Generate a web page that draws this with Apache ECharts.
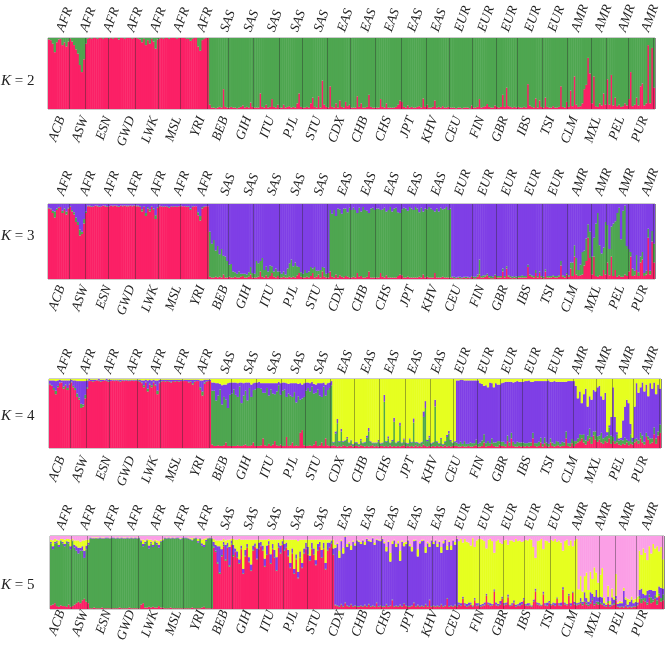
<!DOCTYPE html>
<html>
<head>
<meta charset="utf-8">
<title>ADMIXTURE K = 2 to 5</title>
<script src="https://cdn.jsdelivr.net/npm/echarts@6/dist/echarts.min.js"></script>
<style>
  html, body { margin: 0; padding: 0; background: #fff; }
  #chart { width: 667px; height: 645px; filter: blur(0.4px); }
</style>
</head>
<body>
<div id="chart"></div>
<script>
const popLabels = ['ACB','ASW','ESN','GWD','LWK','MSL','YRI','BEB','GIH','ITU','PJL','STU','CDX','CHB','CHS','JPT','KHV','CEU','FIN','GBR','IBS','TSI','CLM','MXL','PEL','PUR'];
const superLabels = ['AFR','AFR','AFR','AFR','AFR','AFR','AFR','SAS','SAS','SAS','SAS','SAS','EAS','EAS','EAS','EAS','EAS','EUR','EUR','EUR','EUR','EUR','AMR','AMR','AMR','AMR'];
// columns drawn for each population (about one per 8 individuals)
const popColumns = [12,8,12,14,12,11,14,11,13,13,12,13,12,13,13,13,12,12,12,11,13,13,12,8,11,13];

// ancestry shares in percent, one row per population, bottom colour first.
// the top colour of each panel is what is left of 100
const k2Red = [
  [98,97,92,80,94,98,99,90,94,88,95,99],[95,90,84,78,62,52,70,92],[99,100,99,100,100,99,100,100,99,100,100,99],[100,99,100,100,98,100,100,99,100,100,100,99,100,100],[99,98,94,99,90,97,92,99,95,85,98,99],[100,99,100,100,99,100,100,100,99,100,100],[100,100,99,99,96,99,100,100,88,82,97,99,100,100],
  [6,2,2,1,2,3,2,28,3,2,2],[3,2,2,1,2,3,5,2,3,2,9,3,2],[2,2,22,3,2,6,2,3,14,3,2,6,2],[2,6,2,3,4,2,3,2,8,22,3,2],[2,3,2,8,16,3,2,18,2,40,6,3,2],
  [32,3,2,8,2,12,3,2,10,4,6,2],[2,2,18,3,8,2,2,3,20,3,2,2,2],[2,14,3,2,8,2,2,2,2,3,6,12,10],[3,2,5,2,3,2,2,3,4,2,15,3,6],[2,2,3,12,2,3,2,4,2,2,3,2],
  [2,2,1,2,2,1,2,2,2,1,5,2],[2,3,14,2,3,4,7,3,2,2,5,3],[2,3,20,3,30,4,3,2,3,2,3],[2,2,3,2,35,5,3,2,15,2,12,3,2],[16,3,2,2,4,2,2,3,32,3,2,10,3],
  [26,4,46,6,3,4,8,28,34,72,50,8],[46,4,3,8,5,22,6,42],[6,48,5,16,4,6,3,4,8,5,14],[52,4,6,16,5,32,36,5,8,90,8,86,30]
];

const k3Red = [
  [94,93,88,82,92,95,96,88,92,86,94,96],[90,86,76,72,58,60,74,88],[97,97,96,97,98,97,96,97,98,97,96,97],[98,97,98,97,96,98,97,98,97,97,98,97,98,97],[97,96,90,96,84,94,90,96,92,80,95,97],[97,96,97,96,95,97,96,97,96,97,97],[97,97,96,96,92,96,97,97,85,78,94,96,97,97],
  [3,2,2,3,2,3,2,6,2,2,3],[2,2,3,2,2,3,4,2,2,3,6,2,2],[2,3,10,3,2,5,2,4,8,3,2,4,2],[2,3,2,2,3,2,3,2,5,8,3,2],[2,3,2,4,8,2,3,6,2,10,3,2,2],
  [10,3,2,6,2,5,3,2,4,3,2,2],[3,2,8,3,4,2,2,3,10,2,2,2,2],[2,8,3,2,5,2,2,2,2,2,4,6,5],[2,2,3,2,2,2,2,2,3,2,6,2,3],[2,2,2,8,2,2,2,3,2,2,2,2],
  [2,1,1,2,1,1,2,1,2,1,3,1],[1,3,6,2,2,3,5,2,1,1,4,2],[2,2,10,2,14,3,2,1,2,1,2],[2,2,2,2,16,4,3,2,8,2,8,2,1],[10,2,2,2,3,2,2,3,18,3,2,6,3],
  [14,4,30,6,4,5,6,18,24,55,28,6],[30,4,3,5,4,12,6,22],[5,30,4,12,3,5,3,3,6,4,10],[30,4,5,12,4,22,26,4,6,55,6,50,22]
];
const k3Green = [
  [1,1,3,8,2,1,0,3,2,4,1,1],[2,3,6,4,8,3,6,2],[1,1,1,0,0,1,1,0,0,1,1,0],[0,1,0,1,1,0,1,0,1,1,0,1,0,1],[1,1,3,1,4,2,3,1,2,5,1,1],[0,1,0,1,1,0,1,0,1,0,1],[0,0,1,1,2,1,0,0,4,6,2,1,0,0],
  [60,45,50,35,42,30,38,25,28,22,16],[18,8,6,5,8,4,3,5,4,6,10,6,5],[22,18,14,25,10,12,8,14,9,7,12,6,8],[5,7,4,12,18,24,14,20,12,8,6,5],[10,5,8,12,6,14,8,5,10,6,12,5,6],
  [82,84,90,78,92,88,84,92,90,86,93,90],[92,90,80,92,86,94,90,88,78,92,93,90,92],[92,84,90,93,85,90,94,88,92,93,85,82,88],[93,92,88,94,92,90,94,92,86,93,84,92,90],[94,92,90,82,92,88,93,90,92,94,90,92],
  [1,2,1,1,2,1,1,2,1,1,1,2],[2,3,20,2,3,2,2,2,3,2,2,2],[2,2,4,2,3,2,2,2,2,2,2],[2,3,2,2,3,2,2,2,4,2,2,2,2],[3,2,2,2,2,2,2,2,6,2,2,2,2],
  [8,18,15,22,8,14,30,20,30,18,35,24],[25,70,85,40,30,30,70,50],[35,40,70,65,85,90,50,88,92,40,30],[6,10,6,20,5,8,10,4,5,12,5,14,25]
];

const k4Red = [
  [92,90,84,78,88,94,95,86,90,84,92,95],[88,84,74,70,58,60,72,86],[97,97,96,97,98,97,96,97,98,97,96,97],[98,97,98,97,96,98,97,98,97,97,98,97,98,97],[96,94,88,95,82,92,88,95,90,78,94,96],[97,96,97,96,95,97,96,97,96,97,97],[97,97,95,96,92,96,97,97,84,76,93,96,97,97],
  [5,3,3,4,3,3,4,8,3,3,3],[3,3,4,3,3,4,5,3,3,4,8,3,3],[3,4,14,4,3,6,3,5,10,4,3,5,3],[3,16,3,4,8,3,4,3,22,26,4,3],[3,4,3,5,10,3,4,8,3,14,4,3,3],
  [4,3,2,3,2,4,3,2,3,4,2,3],[3,2,4,3,2,3,2,3,4,2,3,2,3],[3,2,3,2,4,2,3,2,3,2,3,4,2],[3,2,3,2,4,2,3,2,5,3,2,3,2],[3,2,3,2,3,2,4,2,3,2,3,3],
  [3,2,2,3,2,2,3,2,2,3,4,2],[2,3,8,2,3,3,6,3,2,2,5,3],[3,2,10,3,14,3,2,2,3,2,3],[2,3,2,3,14,3,2,3,8,2,7,3,2],[8,3,2,3,4,2,3,3,14,3,2,7,3],
  [6,8,10,14,8,5,10,14,6,18,12,9],[12,8,6,10,8,14,6,10],[6,8,5,4,6,5,8,4,6,5,8],[10,6,14,8,5,16,12,6,8,20,6,18,22]
];
const k4Green = [
  [1,1,3,5,2,1,0,3,2,3,1,1],[2,3,5,3,6,3,5,2],[1,0,1,0,0,1,1,0,0,1,1,0],[0,1,0,1,1,0,1,0,1,1,0,1,0,1],[1,1,3,1,4,2,3,1,2,5,1,1],[0,1,0,1,1,0,1,0,1,0,1],[0,0,1,1,2,1,0,0,4,6,2,1,0,0],
  [78,80,66,72,82,60,70,62,55,74,76],[82,74,70,86,62,72,78,66,84,70,76,82,84],[84,82,66,76,84,70,82,74,68,78,88,72,80],[82,58,76,72,66,78,62,72,48,46,70,80],[84,78,86,74,70,82,72,66,86,62,80,84,88],
  [4,18,34,6,22,5,8,12,4,7,3,5],[5,3,7,4,6,12,22,6,3,5,4,8,3],[4,65,6,12,3,8,35,5,6,30,4,8,5],[3,10,5,35,4,6,3,6,40,55,8,12,4],[5,58,6,4,10,3,5,14,18,8,4,6],
  [5,4,7,3,8,4,3,6,5,4,8,4],[6,8,12,5,7,4,8,5,6,8,5,6],[6,4,8,5,8,6,4,7,5,6,5],[5,4,6,5,8,4,5,6,7,4,8,5,4],[6,5,4,7,5,4,6,5,10,4,5,6,7],
  [4,6,10,5,12,6,8,14,10,6,12,8],[6,14,8,6,10,16,12,6],[4,12,6,8,5,10,4,6,14,4,5],[4,5,8,10,4,6,5,8,6,10,8,6,12]
];
const k4Purple = [
  [5,7,11,14,8,4,3,9,6,11,5,3],[8,11,18,24,33,34,20,10],[2,2,2,2,1,2,2,2,1,2,2,2],[1,1,1,1,2,1,1,1,1,1,1,1,1,1],[2,3,7,3,12,5,7,3,6,15,4,2],[2,2,2,2,3,2,2,2,2,2,1],[2,2,3,2,5,2,2,2,10,16,4,2,2,2],
  [12,12,25,18,8,28,18,22,36,18,16],[10,18,20,6,30,18,12,26,8,18,10,10,8],[9,8,14,14,7,18,9,15,16,12,5,17,12],[10,20,14,18,20,13,28,18,24,20,20,12],[8,12,7,14,12,9,18,20,6,16,10,8,6],
  [1,3,6,1,4,1,1,2,1,1,1,1],[1,1,2,1,1,3,5,1,1,1,1,2,1],[1,10,1,3,1,2,6,1,1,5,1,2,1],[1,2,1,6,1,1,1,1,8,10,2,3,1],[1,10,1,1,2,1,1,3,4,2,1,1],
  [90,92,90,93,88,92,92,90,91,91,86,92],[86,82,70,84,78,88,80,80,86,82,82,85],[86,90,78,88,74,86,90,88,88,88,88],[90,90,90,88,74,90,90,88,82,91,82,89,92],[82,88,91,86,87,90,87,88,72,90,90,84,87],
  [80,58,62,46,58,75,42,47,54,60,58,71],[72,53,56,64,5,3,27,72],[35,3,3,3,29,45,58,55,15,6,47],[80,69,66,77,73,70,58,80,72,65,64,68,52]
];

const k5Red = [
  [5,6,8,4,3,5,4,4,3,6,3,4],[6,8,10,8,12,14,10,8],[1,1,2,1,1,1,2,1,1,1,1,1],[1,1,1,2,1,1,1,1,2,1,1,1,1,1],[6,8,2,2,3,2,3,2,2,4,2,2],[1,1,1,2,1,1,1,1,1,1,1],[1,1,1,2,1,1,1,1,2,3,1,1,1,1],
  [84,78,62,48,72,86,66,84,58,88,72],[78,70,62,82,48,72,84,64,52,80,85,68,82],[86,80,58,74,88,62,82,70,52,84,76,88,80],[84,72,56,76,48,68,42,70,56,76,82,74],[66,82,74,60,80,85,70,82,54,80,84,89,74],
  [5,4,3,6,3,8,4,3,6,3,4,3],[3,4,3,5,3,6,3,4,3,8,3,4,3],[3,6,3,4,12,3,4,3,5,3,7,4,3],[3,4,8,3,5,3,4,3,6,3,12,3,4],[3,4,3,6,3,4,14,3,4,3,5,3],
  [6,4,14,5,3,4,6,3,12,4,5,3],[4,5,18,6,4,5,24,5,4,6,14,5],[6,16,4,5,8,3,5,4,6,12,5],[4,5,3,10,24,6,5,4,20,5,4,8,5],[6,4,14,5,4,26,6,5,18,4,22,6,5],
  [6,8,5,10,6,4,7,12,5,8,6,7],[6,4,3,8,3,5,6,12],[3,2,3,2,4,2,3,2,3,3,5],[14,8,12,10,6,16,8,10,14,6,18,10,12]
];
const k5Green = [
  [85,76,82,87,82,88,86,82,89,84,79,89],[78,72,66,72,68,56,72,80],[96,95,94,96,95,96,94,95,96,96,95,96],[96,95,96,94,96,95,95,96,94,96,95,96,95,96],[86,78,88,92,80,88,82,90,86,80,90,92],[96,95,96,94,96,95,96,96,94,96,96],[96,95,94,92,95,96,90,95,85,82,92,95,96,95],
  [2,2,2,2,2,2,2,2,2,2,2],[1,1,1,1,1,1,1,1,1,1,1,1,1],[1,1,1,1,1,1,1,1,1,1,1,1,1],[1,1,1,1,1,1,1,1,1,1,1,1],[1,1,1,1,1,1,1,1,1,1,1,1,1],
  [1,1,1,1,1,1,1,1,1,1,1,1],[1,1,1,1,1,1,1,1,1,1,1,1,1],[1,1,1,1,1,1,1,1,1,1,1,1,1],[1,1,1,1,1,1,1,1,1,1,1,1,1],[1,1,1,1,1,1,1,1,1,1,1,1],
  [1,1,1,1,1,1,1,1,1,1,1,1],[1,1,1,1,1,1,1,1,1,1,1,1],[1,1,1,1,1,1,1,1,1,1,1],[1,1,1,1,1,1,1,1,1,1,1,1,1],[1,1,1,1,1,1,1,1,1,1,1,1,1],
  [1,2,2,1,3,2,2,3,2,2,4,2],[2,1,1,3,1,1,2,2],[1,1,1,1,1,1,1,1,1,1,1],[4,6,3,5,3,4,8,3,5,6,3,5,8]
];
const k5Purple = [
  [2,4,2,2,3,1,2,3,1,2,4,1],[4,6,8,4,6,10,5,3],[1,1,1,0,1,1,1,1,1,1,1,1],[1,1,1,1,1,1,1,1,1,1,1,1,1,1],[2,3,2,1,4,2,3,1,3,4,1,1],[1,1,1,1,1,1,1,1,1,1,1],[1,1,1,1,1,1,2,1,3,3,2,1,1,1],
  [6,8,22,36,8,4,20,5,25,4,14],[4,8,5,4,6,8,4,6,8,6,4,14,8],[5,6,10,12,4,12,6,10,18,6,10,4,8],[6,8,6,6,6,6,8,8,6,6,8,10],[6,8,8,6,8,6,10,8,8,10,6,4,8],
  [78,84,66,86,72,90,80,86,74,88,82,90],[88,84,90,82,92,86,88,92,84,86,90,88,92],[86,72,88,60,76,90,80,86,60,88,78,84,90],[82,74,84,90,66,86,88,90,70,86,72,90,84],[90,80,88,70,86,90,66,88,76,90,82,92],
  [2,3,2,2,3,4,2,1,2,3,2,2],[2,3,2,2,3,1,2,3,2,4,2,2],[2,3,1,2,3,2,1,4,3,2,1],[3,2,1,2,3,2,2,1,3,2,4,2,1],[2,3,1,2,4,3,2,1,2,3,1,3,2],
  [2,5,3,12,6,4,14,6,10,16,6,8],[8,3,2,6,2,10,5,4],[3,5,4,22,8,3,6,10,4,6,3],[8,14,6,4,16,6,10,12,6,4,10,14,8]
];
const k5Yellow = [
  [3,8,4,2,6,2,4,6,3,4,9,2],[6,8,10,8,8,14,8,4],[0,1,1,1,1,0,1,1,0,0,1,0],[0,1,0,1,0,1,1,0,1,0,1,0,1,0],[1,6,2,1,8,3,5,2,3,5,2,1],[0,1,0,1,0,1,0,0,1,0,0],[0,1,1,2,1,0,3,1,5,8,2,1,0,1],
  [4,6,8,8,12,4,6,4,10,2,8],[12,16,28,8,40,14,6,24,34,8,5,12,4],[3,8,26,8,3,20,6,14,24,4,8,3,6],[4,14,32,12,40,20,42,16,32,12,4,10],[22,4,12,28,6,3,14,4,32,4,4,1,12],
  [4,2,10,2,8,1,4,2,6,2,3,1],[2,3,1,4,1,2,2,1,3,1,1,2,1],[2,6,2,12,4,1,4,3,14,2,5,3,1],[3,6,2,1,10,2,2,1,8,2,5,1,3],[1,4,2,8,3,1,6,2,6,1,4,1],
  [84,88,74,88,85,82,78,92,70,86,88,90],[88,84,62,86,88,86,50,84,88,80,72,86],[86,68,88,86,80,90,86,85,82,78,88],[86,88,90,72,42,84,86,90,58,86,84,80,88],[84,88,76,86,82,50,84,88,66,86,62,84,88],
  [18,30,14,22,35,16,28,20,40,24,20,30],[40,8,3,15,5,12,4,30],[2,3,2,4,3,8,3,4,5,4,8],[54,46,62,58,42,60,50,64,58,70,48,56,40]
];

const red = '#fb2066', green = '#4ea650', purple = '#7f3fe6', yellow = '#e6ff20', pink = '#fb9fe6';

const panels = [
  { k: 2, left: 48, right: 655, top: 38, bottom: 109, labelY: 74, topGap: 10, bottomGap: 8, parts: [[k2Red, red]], rest: green },
  { k: 3, left: 48, right: 655, top: 204, bottom: 279, labelY: 229, topGap: 9, bottomGap: 7, parts: [[k3Red, red], [k3Green, green]], rest: purple },
  { k: 4, left: 49, right: 661, top: 379, bottom: 448, labelY: 409, topGap: 6, bottomGap: 9, parts: [[k4Red, red], [k4Green, green], [k4Purple, purple]], rest: yellow },
  { k: 5, left: 50, right: 664, top: 536, bottom: 609, labelY: 578, topGap: 7, bottomGap: 3, parts: [[k5Red, red], [k5Green, green], [k5Purple, purple], [k5Yellow, yellow]], rest: pink }
];

// column index that ends each population, used for the thin dark dividers
const popEnds = new Set();
let running = 0;
popColumns.forEach(n => { running += n; popEnds.add(running - 1); });
const columnNames = Array.from({ length: running }, (_, i) => i);

// rows are read by eye, so hold each one to its population's column count
const flatten = rows => rows.flatMap((row, i) =>
  Array.from({ length: popColumns[i] }, (_, c) => row[Math.min(c, row.length - 1)]));

const labelStyle = {
  rotate: 70,
  interval: 0,
  fontFamily: 'Liberation Serif',
  fontStyle: 'italic',
  fontSize: 13.5,
  color: '#222',
  verticalAlign: 'middle'
};

const option = { animation: false, title: [], grid: [], xAxis: [], yAxis: [], series: [] };

panels.forEach(p => {
  option.title.push({
    text: '{i|K} = ' + p.k,
    left: 1,
    top: p.labelY,
    padding: 0,
    textStyle: {
      fontFamily: 'Liberation Serif', fontSize: 15, fontWeight: 'normal', color: '#222',
      rich: { i: { fontFamily: 'Liberation Serif', fontStyle: 'italic', fontSize: 15, color: '#222' } }
    }
  });

  const top = p.top, height = p.bottom - p.top;
  const g = option.grid.length;
  option.grid.push(
    { left: p.left, width: p.right - p.left, top, height, show: true, borderColor: '#999', borderWidth: 1, backgroundColor: 'transparent' },
    // the label rows sit at the same x in every panel, whatever the panel's own width
    { left: 49.8, width: 606.3, top, height },
    { left: 48.8, width: 608.4, top, height }
  );
  [0, 1, 2].forEach(n => option.yAxis.push({ type: 'value', gridIndex: g + n, min: 0, max: 100, show: false }));

  option.xAxis.push(
    {
      type: 'category', gridIndex: g, data: columnNames, z: 5,
      axisLine: { show: false }, axisTick: { show: false }, axisLabel: { show: false },
      splitLine: { show: true, interval: idx => popEnds.has(idx), lineStyle: { color: 'rgba(40,40,40,0.4)', width: 1 } }
    },
    {
      type: 'category', gridIndex: g + 1, position: 'bottom', data: popLabels,
      axisLine: { show: false }, axisTick: { show: false },
      axisLabel: { ...labelStyle, align: 'right', margin: p.bottomGap }
    },
    {
      type: 'category', gridIndex: g + 2, position: 'top', data: superLabels,
      axisLine: { show: false }, axisTick: { show: false },
      axisLabel: { ...labelStyle, align: 'left', margin: p.topGap }
    }
  );

  const barSeries = (data, color) => ({
    type: 'bar', stack: 'k' + p.k, xAxisIndex: g, yAxisIndex: g,
    data, barWidth: 2.4, itemStyle: { color }, silent: true
  });
  const flat = p.parts.map(part => flatten(part[0]));
  flat.forEach((values, n) => option.series.push(barSeries(values, p.parts[n][1])));
  const rest = columnNames.map(c => Math.max(0, 100 - flat.reduce((sum, values) => sum + values[c], 0)));
  option.series.push(barSeries(rest, p.rest));
});

const chart = echarts.init(document.getElementById('chart'), null, { renderer: 'canvas' });
chart.setOption(option);
</script>
</body>
</html>
